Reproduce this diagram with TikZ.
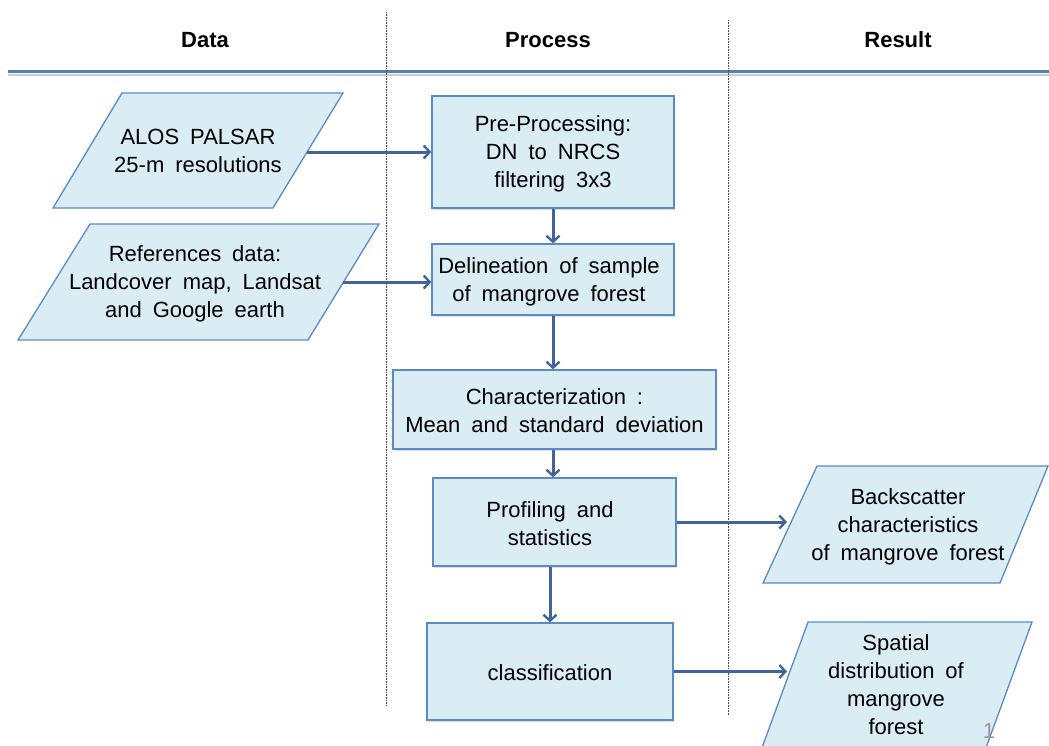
\documentclass[tikz,border=0pt]{standalone}
\usepackage{fontspec}
\setmainfont{Liberation Sans}
\usetikzlibrary{arrows.meta,shadows}
\definecolor{boxfill}{HTML}{DBEDF4}
\definecolor{boxline}{HTML}{5B8BC6}
\definecolor{arrowblue}{HTML}{3F6599}
\definecolor{ruleblue}{HTML}{4F81BD}
\newcommand{\bodyfont}{\fontsize{22}{28}\selectfont\spaceskip=0.5em plus 0.1em\relax}
\tikzset{
  txt/.style={font=\bodyfont, align=center, inner sep=0pt, text=black},
  head/.style={font=\fontsize{22}{26}\selectfont\bfseries, inner sep=0pt, text=black},
  procbox/.style={draw=boxline, fill=boxfill, line width=1.3pt, inner sep=0pt,
    drop shadow={opacity=0.25, shadow xshift=1pt, shadow yshift=-2pt}},
  databox/.style={draw=boxline, fill=boxfill, line width=1.3pt, line join=miter},
  flow/.style={draw=arrowblue, line width=3pt, -{Straight Barb[length=6pt,width=13pt,line width=2.4pt]}},
  lane/.style={draw=black!70, line width=0.6pt, densely dotted},
}
\begin{document}
\begin{tikzpicture}[x=1pt,y=-1pt]
\useasboundingbox (0,0) rectangle (1049,745);
\clip (0,0) rectangle (1049,745);

% column headings
\node[head] (hdata) at (205,40) {Data};
\node[head] (hproc) at (548,40) {Process};
\node[head] (hres) at (898,40) {Result};

% rule under the headings
\draw[black!20, line width=2pt] (8,74.5) -- (1049,74.5);
\draw[ruleblue, line width=3pt] (8,71.5) -- (1049,71.5);

% lane separators
\draw[lane] (386,12) -- (386,705);
\draw[lane] (728,20) -- (728,715);

% input data (parallelograms)
\draw[databox] (122,93) -- (343,93) -- (273,208) -- (53,208) -- cycle;
\node[txt] (alos) at (198,151) {ALOS PALSAR\\25-m resolutions};
\coordinate (alosR) at (307,152);

\draw[databox] (90,224) -- (379,224) -- (308,340) -- (18,340) -- cycle;
\node[txt] (refs) at (195,284) {References data:\\Landcover map, Landsat\\and Google earth};
\coordinate (refsR) at (343,282);

% processing steps
\node[procbox, minimum width=242pt, minimum height=112pt] (pre) at (553,152) {};
\node[txt] (pretxt) at (553,154) {Pre-Processing:\\DN to NRCS\\filtering 3x3};

\node[procbox, minimum width=242pt, minimum height=71pt] (del) at (553,279.5) {};
\node[txt] (deltxt) at (549,282) {Delineation of sample\\of mangrove forest};

\node[procbox, minimum width=323pt, minimum height=79pt] (chr) at (554.5,409.5) {};
\node[txt] (chrtxt) at (554.5,411) {Characterization :\\Mean and standard deviation};

\node[procbox, minimum width=243pt, minimum height=88pt] (prof) at (554.5,522) {};
\node[txt] (proftxt) at (550,524) {Profiling and\\statistics};

\node[procbox, minimum width=246pt, minimum height=97pt] (cls) at (550,671.5) {};
\node[txt] (clstxt) at (550,673) {classification};

% results (parallelograms)
\draw[databox] (817,466) -- (1048,466) -- (1000,583) -- (763,583) -- cycle;
\node[txt] (back) at (908,527) {Backscatter\\characteristics\\of mangrove forest};
\coordinate (backL) at (787,522);

\draw[databox] (808,622) -- (1032,622) -- (981.5,760) -- (757.5,760) -- cycle;
\node[txt] (spat) at (896,685) {Spatial\\distribution of\\mangrove\\forest};
\coordinate (spatL) at (787,671.5);

% page number
\node[txt, text=black!40] (pageno) at (989,731) {1};

% connectors
\draw[flow] (alosR) -- (pre.west);
\draw[flow] (refsR) -- (refsR -| del.west);
\draw[flow] (pre.south) -- (del.north);
\draw[flow] (del.south) -- (del.south |- chr.north);
\draw[flow] (chr.south -| del.south) -- (del.south |- prof.north);
\draw[flow] (prof.south -| cls.north) -- (cls.north);
\draw[flow] (prof.east) -- (backL);
\draw[flow] (cls.east) -- (spatL);
\end{tikzpicture}
\end{document}
